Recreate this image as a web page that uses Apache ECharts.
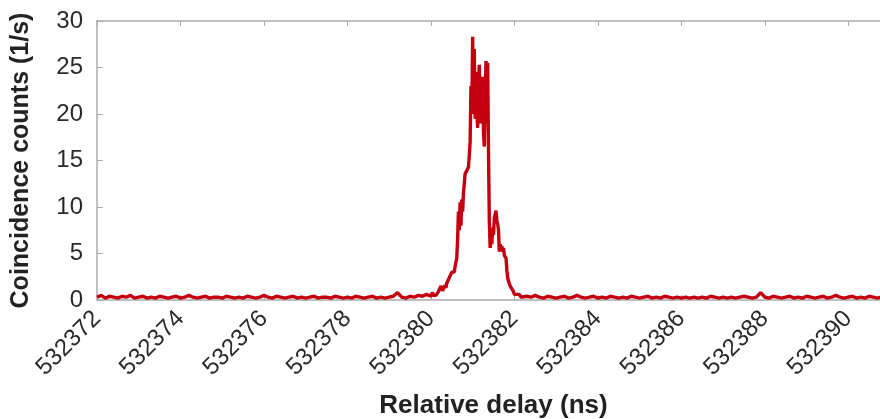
<!DOCTYPE html>
<html>
<head>
<meta charset="utf-8">
<script src="https://cdn.jsdelivr.net/npm/echarts@6/dist/echarts.min.js"></script>
<style>
html,body{margin:0;padding:0;background:#fff;}
#chart{width:880px;height:419px;}
</style>
</head>
<body>
<div id="chart"></div>
<script>
// Axis definitions
const xTicks = [532372, 532374, 532376, 532378, 532380, 532382, 532384, 532386, 532388, 532390];
const yTicks = [0, 5, 10, 15, 20, 25, 30];
const xTitle = 'Relative delay (ns)';
const yTitle = 'Coincidence counts (1/s)';

// Left baseline: bins of 0.1 ns starting at 532372.0
const leftStart = 532372.0;
const leftStep = 0.1;
const leftCounts = [
  0.3,0.5,0.2,0.4,0.3,0.2,0.4,0.3,0.5,0.2,
  0.3,0.4,0.2,0.3,0.2,0.4,0.3,0.2,0.3,0.4,
  0.2,0.3,0.5,0.3,0.2,0.3,0.4,0.2,0.3,0.3,
  0.2,0.4,0.3,0.2,0.3,0.2,0.4,0.3,0.2,0.3,
  0.5,0.3,0.2,0.4,0.3,0.2,0.3,0.4,0.2,0.3,
  0.2,0.3,0.4,0.2,0.3,0.3,0.2,0.4,0.3,0.2,
  0.3,0.2,0.4,0.3,0.2,0.3,0.4,0.2,0.3,0.2,
  0.3,0.4,0.8,0.3,0.2,0.4,0.3,0.5,0.4,0.6
];

// Peak region: bins of 0.02 ns starting at 532380.00
const peakStart = 532380.0;
const peakStep = 0.02;
const peakCounts = [
  0.4,0.5,0.8,0.5,0.4,0.6,0.5,0.7,0.6,0.9,
  0.8,1.0,1.5,1.3,1.0,0.9,1.2,1.6,1.3,1.8,
  2.0,1.8,2.4,2.6,2.4,3.0,2.8,3.2,3.0,3.6,
  3.4,4.5,6.5,9.5,7.5,10.5,8.0,10.8,9.5,11.5,
  12.5,13.6,13.4,13.9,14.0,14.3,15.5,17.0,23.0,20.0,
  28.3,21.0,27.0,19.5,24.5,20.5,18.5,23.5,25.3,20.0,
  19.0,23.0,24.0,18.0,16.5,22.0,25.7,19.0,25.5,16.0,
  8.5,5.6,7.0,6.0,7.8,7.0,8.8,9.2,9.6,8.5,
  8.2,7.5,5.2,6.0,5.5,5.8,5.2,5.6,4.8,5.0,
  4.5,3.2,2.4,2.0,1.8,1.5,1.6,1.2,1.0,0.9,
  0.6,0.7,0.5,0.6,0.4,0.5,0.6,0.4,0.3,0.5,
  0.4
];

// Right baseline: bins of 0.1 ns starting at 532382.3
const rightStart = 532382.3;
const rightStep = 0.1;
const rightCounts = [
  0.4,0.3,0.5,0.3,0.2,0.4,0.3,0.2,0.3,0.4,
  0.2,0.3,0.5,0.3,0.2,0.3,0.4,0.2,0.3,0.2,
  0.4,0.3,0.2,0.3,0.2,0.4,0.3,0.2,0.3,0.4,
  0.2,0.3,0.2,0.4,0.3,0.2,0.3,0.2,0.3,0.2,
  0.3,0.2,0.3,0.2,0.4,0.3,0.2,0.3,0.2,0.3,
  0.2,0.3,0.4,0.3,0.2,0.3,0.8,0.3,0.2,0.4,
  0.3,0.2,0.3,0.4,0.2,0.3,0.2,0.4,0.3,0.2,
  0.3,0.4,0.2,0.3,0.5,0.3,0.2,0.3,0.4,0.2,
  0.3,0.2,0.4,0.3,0.2,0.3,0.4,0.3
];

function binned(start, step, counts) {
  return counts.map((c, i) => [Math.round((start + i * step) * 1000) / 1000, c]);
}
const seriesData = []
  .concat(binned(leftStart, leftStep, leftCounts))
  .concat(binned(peakStart, peakStep, peakCounts))
  .concat(binned(rightStart, rightStep, rightCounts));

const xMin = xTicks[0];
const xMax = 532391;
const xInterval = xTicks[1] - xTicks[0];

const axisGray = '#aaaaaa';
const labelColor = '#2a2a2a';
const fontFam = '"Liberation Sans", Arial, Helvetica, sans-serif';

function xLabel(v) {
  const r = Math.round(v);
  if (Math.abs(v - r) > 1e-6) return '';
  return xTicks.indexOf(r) >= 0 ? String(r) : '';
}

const chart = echarts.init(document.getElementById('chart'), null, {renderer: 'canvas'});
chart.setOption({
  animation: false,
  backgroundColor: '#ffffff',
  grid: {left: 97, top: 21, right: -10, bottom: 119, containLabel: false, outerBoundsMode: 'none'},
  xAxis: [{
    type: 'value',
    min: xMin, max: xMax, interval: xInterval,
    position: 'bottom',
    name: xTitle,
    nameLocation: 'middle',
    nameGap: 93,
    nameTextStyle: {fontFamily: fontFam, fontWeight: 'bold', fontSize: 26, color: '#222'},
    axisLine: {show: true, lineStyle: {color: axisGray, width: 1.5}},
    axisTick: {show: true, inside: true, length: 5, lineStyle: {color: axisGray}},
    axisLabel: {
      rotate: 45, margin: 15, fontFamily: fontFam, fontSize: 24, color: labelColor,
      formatter: xLabel, showMaxLabel: false
    },
    splitLine: {show: false}
  }, {
    type: 'value',
    min: xMin, max: xMax, interval: xInterval,
    position: 'top',
    axisLine: {show: true, lineStyle: {color: axisGray, width: 1.5}},
    axisTick: {show: true, inside: true, length: 5, lineStyle: {color: axisGray}},
    axisLabel: {show: false},
    splitLine: {show: false}
  }],
  yAxis: [{
    type: 'value',
    min: yTicks[0], max: yTicks[yTicks.length - 1], interval: yTicks[1] - yTicks[0],
    name: yTitle,
    nameLocation: 'middle',
    nameGap: 63,
    nameTextStyle: {fontFamily: fontFam, fontWeight: 'bold', fontSize: 25, color: '#222'},
    axisLine: {show: true, lineStyle: {color: axisGray, width: 1.5}},
    axisTick: {show: true, inside: true, length: 6, lineStyle: {color: axisGray}},
    axisLabel: {margin: 14, fontFamily: fontFam, fontSize: 24, color: labelColor},
    splitLine: {show: false}
  }],
  series: [{
    type: 'line',
    data: seriesData,
    showSymbol: false,
    symbol: 'none',
    lineStyle: {color: '#c40010', width: 3.4},
    itemStyle: {color: '#c40010'},
    z: 3
  }]
});
</script>
</body>
</html>
